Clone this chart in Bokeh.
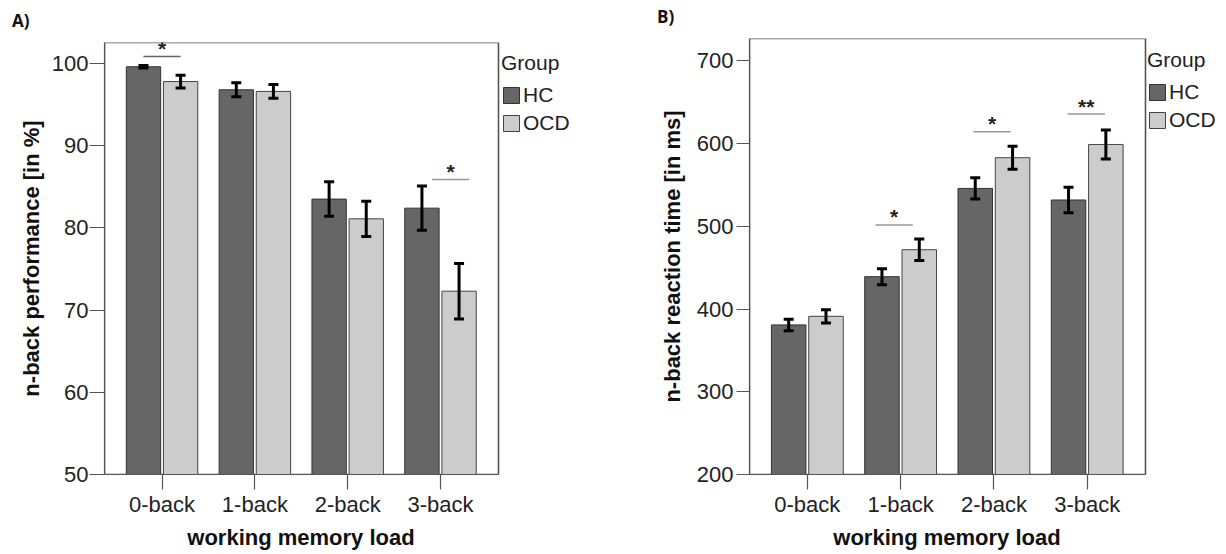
from bokeh.plotting import figure
from bokeh.models import (Range1d, Whisker, ColumnDataSource, Legend, LegendItem,
                          FixedTicker, TeeHead, BoxAnnotation, Div)
from bokeh.layouts import row, column
from bokeh.embed import file_html
from bokeh.resources import INLINE
from bokeh.core.properties import value

# ---------------- data ----------------
categories = ["0-back", "1-back", "2-back", "3-back"]
groups = ["HC", "OCD"]

perf_hc = [99.6, 96.8, 83.5, 82.4]
perf_hc_err = [0.15, 0.85, 2.1, 2.7]
perf_ocd = [97.8, 96.6, 81.1, 72.3]
perf_ocd_err = [0.77, 0.83, 2.15, 3.37]

rt_hc = [380.8, 439.1, 545.8, 531.8]
rt_hc_err = [7.0, 9.7, 12.9, 15.3]
rt_ocd = [391.2, 471.7, 582.9, 598.9]
rt_ocd_err = [8.0, 13.0, 13.9, 17.5]

perf_ticks = [50, 60, 70, 80, 90, 100]
rt_ticks = [200, 300, 400, 500, 600, 700]

x_title = "working memory load"

# significance markers: category index, bracket level, horizontal shift, label
sig_a_index = [0, 3]
sig_a_level = [100.86, 85.88]
sig_a_shift = [0.0, 0.11]
sig_a_mark = ["*", "*"]
sig_a_color = ["#666666", "#999999"]

sig_b_index = [1, 2, 3]
sig_b_level = [501.6, 614.3, 635.6]
sig_b_shift = [-0.07, -0.02, -0.01]
sig_b_mark = ["*", "*", "**"]
sig_b_color = ["#999999", "#999999", "#999999"]

HC_COLOR = "#666666"
OCD_COLOR = "#cccccc"
FONT = "Liberation Sans"
AXIS_COLOR = "#555555"
TAG_H = 30
XLAB_H = 34
HEIGHT = 554 - TAG_H - XLAB_H
X0, X1 = -0.62, 3.625          # visible box in category units


def make_panel(tag, tag_left, tag_pad, hc, hc_err, ocd, ocd_err, y0, y1, ticks, ylabel,
               sig_idx, sig_lvl, sig_shift, sig_mark, sig_col,
               width, left, top, box_w,
               ytick_out, ylab_standoff, ytitle_standoff, legend_loc):
    # the frame extends to the right edge so the legend can sit beside the box
    frame_w = width - left
    x_end = X0 + (X1 - X0) * frame_w / box_w
    p = figure(width=width, height=HEIGHT,
               x_range=Range1d(X0, x_end), y_range=Range1d(y0, y1),
               output_backend="svg", toolbar_location=None,
               min_border_left=left, min_border_right=0,
               min_border_top=top, min_border_bottom=46)
    p.xgrid.visible = False
    p.ygrid.visible = False
    p.outline_line_color = None
    p.add_layout(BoxAnnotation(left=X0, right=X1, bottom=y0, top=y1,
                               fill_alpha=0, line_color=AXIS_COLOR, line_alpha=1,
                               line_width=1.6, level="underlay"))

    idx = list(range(len(categories)))
    bar_w = 0.37
    src_hc = ColumnDataSource(dict(
        x=[i - 0.2 for i in idx], top=hc,
        upper=[v + e for v, e in zip(hc, hc_err)],
        lower=[v - e for v, e in zip(hc, hc_err)]))
    src_ocd = ColumnDataSource(dict(
        x=[i + 0.2 for i in idx], top=ocd,
        upper=[v + e for v, e in zip(ocd, ocd_err)],
        lower=[v - e for v, e in zip(ocd, ocd_err)]))

    r_hc = p.vbar(x="x", top="top", bottom=y0, width=bar_w, source=src_hc,
                  fill_color=HC_COLOR, line_color="#333333", line_width=1)
    r_ocd = p.vbar(x="x", top="top", bottom=y0, width=bar_w, source=src_ocd,
                   fill_color=OCD_COLOR, line_color="#444444", line_width=1)

    for src in (src_hc, src_ocd):
        w = Whisker(source=src, base="x", upper="upper", lower="lower",
                    line_color="black", line_width=3, level="annotation",
                    upper_head=TeeHead(size=10, line_width=3, line_color="black"),
                    lower_head=TeeHead(size=10, line_width=3, line_color="black"))
        p.add_layout(w)

    # significance brackets
    cx = [i + s for i, s in zip(sig_idx, sig_shift)]
    sig_src = ColumnDataSource(dict(
        x0=[c - 0.2 for c in cx], x1=[c + 0.2 for c in cx], x=cx,
        y=sig_lvl, text=sig_mark, color=sig_col))
    p.segment(x0="x0", y0="y", x1="x1", y1="y", source=sig_src,
              line_color="color", line_width=1.5)
    p.text(x="x", y="y", text="text", source=sig_src, text_align="center",
           text_baseline="alphabetic", y_offset=-8,
           text_font=value(FONT), text_font_size="21px", text_font_style="bold",
           text_color="#222222")

    # axes
    p.xaxis.ticker = FixedTicker(ticks=idx)
    p.xaxis.major_label_overrides = {i: c for i, c in zip(idx, categories)}
    p.xaxis.bounds = (X0, X1)
    p.yaxis.ticker = FixedTicker(ticks=ticks)
    p.yaxis.axis_label = ylabel
    for ax in (p.xaxis[0], p.yaxis[0]):
        ax.axis_line_color = AXIS_COLOR
        ax.axis_line_width = 1.2
        ax.major_tick_line_color = AXIS_COLOR
        ax.major_tick_line_width = 1.2
        ax.minor_tick_line_color = None
        ax.major_tick_in = 0
        ax.major_label_text_font = FONT
        ax.major_label_text_font_size = "22px"
        ax.major_label_text_color = "#222222"
        ax.axis_label_text_font = FONT
        ax.axis_label_text_font_size = "22px"
        ax.axis_label_text_font_style = "bold"
        ax.axis_label_text_color = "#111111"
    p.xaxis.major_tick_out = 15
    p.xaxis.major_label_standoff = 2
    p.yaxis.major_tick_out = ytick_out
    p.yaxis.major_label_standoff = ylab_standoff
    p.yaxis.axis_label_standoff = ytitle_standoff

    legend = Legend(items=[LegendItem(label=groups[0], renderers=[r_hc]),
                           LegendItem(label=groups[1], renderers=[r_ocd])],
                    title="Group", location=legend_loc,
                    glyph_width=20, glyph_height=20, label_height=20,
                    label_standoff=2, spacing=4, padding=0, margin=0,
                    title_standoff=8,
                    border_line_color=None, background_fill_alpha=0,
                    label_text_font=FONT, label_text_font_size="21px",
                    label_text_color="#222222",
                    title_text_font=FONT, title_text_font_size="21px",
                    title_text_font_style="normal", title_text_color="#222222")
    p.add_layout(legend)

    tag_div = Div(text=tag, width=width, height=TAG_H, margin=(0, 0, 0, 0),
                  styles={"font-family": "Open Sans", "font-size": "17px",
                          "font-weight": "bold", "line-height": "17px",
                          "color": "#111111", "padding-left": f"{tag_left}px",
                          "padding-top": f"{tag_pad}px", "box-sizing": "border-box"})
    # x-axis title, centred under the plot box
    xlab_div = Div(text=x_title, width=width, height=XLAB_H, margin=(0, 0, 0, 0),
                   styles={"font-family": FONT, "font-size": "22px",
                           "font-weight": "bold", "line-height": "22px",
                           "color": "#111111", "text-align": "center",
                           "padding-left": f"{left}px",
                           "padding-right": f"{width - left - box_w}px",
                           "padding-top": "7px", "box-sizing": "border-box"})
    return column(tag_div, p, xlab_div, spacing=0)


pA = make_panel("A)", 12, 12, perf_hc, perf_hc_err, perf_ocd, perf_ocd_err,
                50, 102.55, perf_ticks, "n-back performance [in %]",
                sig_a_index, sig_a_level, sig_a_shift, sig_a_mark, sig_a_color,
                width=626, left=104, top=12, box_w=394,
                ytick_out=15, ylab_standoff=1, ytitle_standoff=5,
                legend_loc=(397, 339))
pB = make_panel("B)", 31, 8, rt_hc, rt_hc_err, rt_ocd, rt_ocd_err,
                200, 727, rt_ticks, "n-back reaction time [in ms]",
                sig_b_index, sig_b_level, sig_b_shift, sig_b_mark, sig_b_color,
                width=600, left=123, top=8, box_w=396,
                ytick_out=13, ylab_standoff=3, ytitle_standoff=9,
                legend_loc=(398, 342))

layout = row(pA, pB, spacing=0)
open("out.html", "w").write(file_html(layout, INLINE))
